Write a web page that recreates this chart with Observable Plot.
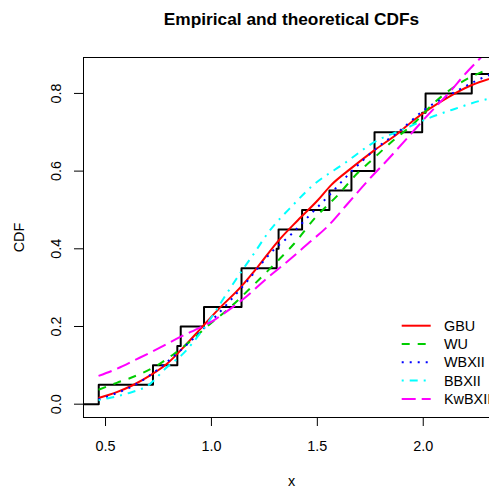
<!DOCTYPE html>
<html><head><meta charset="utf-8">
<script src="https://cdn.jsdelivr.net/npm/d3@7"></script>
<script src="https://cdn.jsdelivr.net/npm/@observablehq/plot@0.6"></script>
<style>body{margin:0;background:#fff;} svg{display:block}</style>
</head><body><div id="chart"></div>
<script>
// Empirical CDF: jump positions and levels
const ecdfX = [0.468, 0.724, 0.839, 0.855, 0.965, 1.142, 1.308, 1.317, 1.428, 1.557, 1.661, 1.770, 1.995, 2.011, 2.229];
const ecdfY = [0.05, 0.10, 0.15, 0.20, 0.25, 0.35, 0.40, 0.45, 0.50, 0.55, 0.60, 0.70, 0.75, 0.80, 0.85];

// Theoretical CDFs
const gbuX = [0.467,0.553,0.633,0.711,0.790,0.869,0.948,1.027,1.139,1.218,1.312,1.407,1.502,1.565,1.659,1.770,1.880,1.959,2.117,2.227,2.36];
const gbuY = [0.016,0.031,0.050,0.074,0.104,0.147,0.194,0.241,0.302,0.353,0.418,0.473,0.525,0.564,0.607,0.654,0.697,0.733,0.790,0.821,0.845];

const wuX = [0.467,0.553,0.62,0.75,0.82,0.90,0.995,1.09,1.19,1.30,1.39,1.49,1.60,1.69,1.75,1.85,1.96,2.04,2.16,2.275,2.36];
const wuY = [0.037,0.055,0.068,0.102,0.128,0.162,0.207,0.250,0.302,0.362,0.413,0.480,0.540,0.595,0.625,0.675,0.725,0.770,0.822,0.855,0.872];

const wbX = [0.467,0.55,0.63,0.76,0.853,1.013,1.171,1.281,1.376,1.47,1.549,1.643,1.786,1.88,2.006,2.164,2.259,2.36];
const wbY = [0.012,0.028,0.047,0.095,0.138,0.222,0.318,0.390,0.437,0.490,0.534,0.589,0.662,0.700,0.758,0.808,0.835,0.858];

const bbX = [0.467,0.5,0.6,0.712,0.783,0.87,0.95,1.011,1.043,1.137,1.2,1.263,1.391,1.47,1.628,1.786,1.896,2.038,2.148,2.275,2.36];
const bbY = [0.010,0.014,0.027,0.053,0.092,0.132,0.185,0.232,0.260,0.338,0.387,0.438,0.516,0.559,0.620,0.680,0.705,0.739,0.760,0.782,0.792];

const kwX = [0.467,0.553,0.648,0.759,0.853,0.948,1.011,1.044,1.171,1.249,1.36,1.455,1.549,1.643,1.738,1.833,1.944,2.006,2.117,2.213,2.275,2.36];
const kwY = [0.073,0.091,0.116,0.146,0.173,0.198,0.216,0.228,0.280,0.318,0.368,0.413,0.458,0.516,0.575,0.630,0.697,0.735,0.799,0.859,0.894,0.94];

const legendNames = ["GBU", "WU", "WBXII", "BBXII", "KwBXII"];
const legendColors = ["#FF0000", "#00CD00", "#0000FF", "#00FFFF", "#FF00FF"];
const legendDash = [null, "8,8", "2,6", "2,6,8,6", "14,6"];

const xTicks = [0.5, 1.0, 1.5, 2.0];
const yTicks = [0.0, 0.2, 0.4, 0.6, 0.8];
const xTickLabels = ["0.5", "1.0", "1.5", "2.0"];
const yTickLabels = ["0.0", "0.2", "0.4", "0.6", "0.8"];

const titleText = "Empirical and theoretical CDFs";
const xLabel = "x";
const yLabel = "CDF";

const xDomain = [0.396, 2.36];
const yDomain = [-0.0343, 0.8925];

const FONT = "'Liberation Sans', Arial, Helvetica, sans-serif";

const ecdfData = [{x: xDomain[0], y: 0}]
  .concat(ecdfX.map((x, i) => ({x, y: ecdfY[i]})))
  .concat([{x: xDomain[1], y: ecdfY[ecdfY.length - 1]}]);

const seriesX = [gbuX, wuX, wbX, bbX, kwX];
const seriesY = [gbuY, wuY, wbY, bbY, kwY];

const curveMarks = legendNames.map((name, k) =>
  Plot.line(seriesX[k].map((x, i) => ({x, y: seriesY[k][i]})), {
    x: "x", y: "y",
    stroke: legendColors[k],
    strokeWidth: 2,
    strokeDasharray: legendDash[k] || undefined,
    strokeLinecap: "butt",
    curve: "monotone-x",
    clip: true
  })
);

const chart = Plot.plot({
  width: 489,
  height: 490,
  marginLeft: 83,
  marginRight: -10,
  marginTop: 57,
  marginBottom: 73,
  style: {fontFamily: FONT, fontSize: "14.4px", background: "white", color: "black"},
  x: {domain: xDomain},
  y: {domain: yDomain},
  marks: [
    Plot.line(ecdfData, {x: "x", y: "y", curve: "step-after", stroke: "black", strokeWidth: 2, clip: true}),
    ...curveMarks,
    Plot.frame({stroke: "black", strokeWidth: 1}),
    Plot.axisX({ticks: xTicks, tickSize: 9, fill: "none", label: null, stroke: "black"}),
    Plot.axisY({ticks: yTicks, tickSize: 9, fill: "none", label: null, stroke: "black"}),
    Plot.text(xTicks, {x: d => d, text: (d, i) => xTickLabels[i], frameAnchor: "bottom", dy: 29, lineAnchor: "middle", fontSize: 14.4, fill: "black"}),
    Plot.text(yTicks, {y: d => d, text: (d, i) => yTickLabels[i], frameAnchor: "left", dx: -27, rotate: -90, textAnchor: "middle", lineAnchor: "middle", fontSize: 14.4, fill: "black"}),
    Plot.text([titleText], {text: d => d, frameAnchor: "top", dy: -38, lineAnchor: "middle", fontSize: 17.3, fontWeight: "bold", fill: "black"}),
    Plot.text([xLabel], {text: d => d, frameAnchor: "bottom", dy: 64, lineAnchor: "middle", fontSize: 14.4, fill: "black"}),
    Plot.text([yLabel], {text: d => d, frameAnchor: "left", dx: -64, rotate: -90, textAnchor: "middle", lineAnchor: "middle", fontSize: 14.4, fill: "black"})
  ]
});

document.getElementById("chart").appendChild(chart);

// Legend (bottom-right, no box)
const svg = d3.select(chart);
const lg = svg.append("g")
  .attr("font-family", FONT)
  .attr("font-size", 14.4)
  .attr("text-anchor", "start");
legendNames.forEach((name, i) => {
  const yy = 325.7 + i * 18.3;
  lg.append("line")
    .attr("x1", 401.7).attr("x2", 430.7)
    .attr("y1", yy).attr("y2", yy)
    .attr("stroke", legendColors[i])
    .attr("stroke-width", 2)
    .attr("stroke-linecap", "butt")
    .attr("stroke-dasharray", legendDash[i]);
  lg.append("text")
    .attr("x", 444).attr("y", yy)
    .attr("dy", "0.35em")
    .attr("text-anchor", "start")
    .attr("fill", "black")
    .text(name);
});
</script>
</body></html>
